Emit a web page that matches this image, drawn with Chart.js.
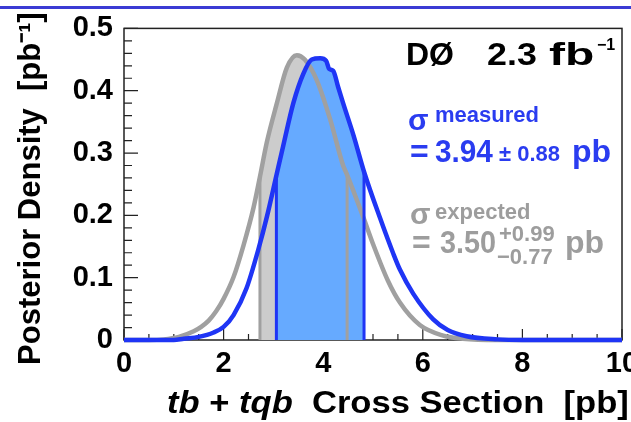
<!DOCTYPE html>
<html>
<head>
<meta charset="utf-8">
<script src="https://cdn.jsdelivr.net/npm/chart.js@4.4.1/dist/chart.umd.min.js"></script>
<style>
html, body { margin: 0; padding: 0; background: #fff; overflow: hidden; }
#wrap { position: relative; width: 631px; height: 422px; overflow: hidden; }
#chart { position: absolute; left: 0; top: 0; }
#topRule { position: absolute; left: 0; top: 6px; width: 631px; height: 3px; background: #3b3bd4; }
.t { position: absolute; font-family: "Liberation Sans", Arial, sans-serif; font-weight: bold; line-height: 1; white-space: pre; transform-origin: 0 0; }
.blue { color: #2a3cf0; }
.grey { color: #9d9d9d; }
</style>
</head>
<body>
<div id="wrap">
  <canvas id="chart" width="680" height="422"></canvas>
  <div id="topRule"></div>

  <div class="t" style="left:406px; top:38px; font-size:32px;">DØ</div>
  <div class="t" style="left:487px; top:38px; font-size:32px; transform:scaleX(1.12);">2.3</div>
  <div class="t" style="left:549px; top:38px; font-size:32px; transform:scaleX(1.5);">fb</div>
  <div class="t" style="left:597px; top:37px; font-size:16px;">−1</div>

  <div class="t blue" style="left:408px; top:105px; font-size:30px;">σ</div>
  <div class="t blue" style="left:435px; top:104px; font-size:22px;">measured</div>
  <div class="t blue" style="left:410px; top:135px; font-size:32px;">=</div>
  <div class="t blue" style="left:435px; top:135px; font-size:32px; transform:scaleX(0.93);">3.94</div>
  <div class="t blue" style="left:499px; top:143px; font-size:22px;">± 0.88</div>
  <div class="t blue" style="left:572px; top:135px; font-size:32px;">pb</div>

  <div class="t grey" style="left:410px; top:199px; font-size:30px;">σ</div>
  <div class="t grey" style="left:435px; top:201px; font-size:22px;">expected</div>
  <div class="t grey" style="left:412px; top:226px; font-size:32px;">=</div>
  <div class="t grey" style="left:440px; top:226px; font-size:32px; transform:scaleX(0.9);">3.50</div>
  <div class="t grey" style="left:499px; top:223px; font-size:22px;">+0.99</div>
  <div class="t grey" style="left:497px; top:246px; font-size:22px;">−0.77</div>
  <div class="t grey" style="left:565px; top:226px; font-size:32px;">pb</div>

  <div class="t" style="left:167px; top:386px; font-size:32px; transform:scaleX(1.08);"><i>tb</i> + <i>tqb</i>  Cross Section  [pb]</div>
</div>

<script>
// posterior densities
const expectedX = [0, 0.5, 0.8, 1.1, 1.4, 1.55, 1.7, 1.85, 2.0, 2.2, 2.4, 2.6, 2.73, 2.87, 3.07, 3.27, 3.47, 3.63, 3.87, 4.14, 4.40, 4.48, 4.81, 5.01, 5.3, 5.54, 5.94, 6.41, 6.8, 7.5, 10];
const expectedY = [0, 0, 0.001, 0.005, 0.014, 0.021, 0.031, 0.046, 0.066, 0.101, 0.152, 0.212, 0.262, 0.318, 0.380, 0.437, 0.457, 0.450, 0.417, 0.354, 0.280, 0.265, 0.196, 0.152, 0.095, 0.060, 0.024, 0.007, 0.002, 0, 0];
const expectedBand = [2.73, 4.48];

const measuredX = [0, 1.0, 1.2, 1.5, 1.8, 2.0, 2.2, 2.46, 2.70, 2.87, 3.06, 3.2, 3.40, 3.60, 3.77, 3.94, 4.06, 4.12, 4.20, 4.30, 4.40, 4.61, 4.82, 5.14, 5.41, 5.54, 5.81, 6.21, 6.5, 6.88, 7.5, 8, 10];
const measuredY = [0, 0, 0.002, 0.005, 0.012, 0.021, 0.040, 0.083, 0.146, 0.198, 0.264, 0.3125, 0.380, 0.427, 0.450, 0.452, 0.448, 0.435, 0.432, 0.406, 0.380, 0.328, 0.270, 0.196, 0.138, 0.113, 0.074, 0.033, 0.016, 0.006, 0.001, 0, 0];
const measuredBand = [3.06, 4.82];

const xTicks = [0, 2, 4, 6, 8, 10];
const yTicks = ['0', '0.1', '0.2', '0.3', '0.4', '0.5'];

const greyLine = '#a0a0a0';
const greyFill = '#cccccc';
const blueLine = '#1f35f5';
const blueFill = '#66aaff';
const fontFam = '"Liberation Sans", Arial, sans-serif';

const pts = (xs, ys) => xs.map((x, i) => ({ x: x, y: ys[i] }));
const band = (xs, ys, b) => pts(xs, ys).filter(p => p.x >= b[0] && p.x <= b[1]);
const edge = (xs, ys, x) => [{ x: x, y: 0 }, { x: x, y: ys[xs.indexOf(x)] }];

// ROOT style frame with ticks on the inside
const rootFrame = {
    id: 'rootFrame',
    beforeDatasetsDraw(chart) {
        const { ctx, chartArea: a, scales: { x, y } } = chart;
        ctx.save();
        ctx.strokeStyle = '#222';
        ctx.lineWidth = 1.5;
        ctx.strokeRect(a.left, a.top, a.right - a.left, a.bottom - a.top);
        ctx.lineWidth = 1.2;
        ctx.beginPath();
        for (let i = 0; i <= 20; i++) {
            const px = x.getPixelForValue(i * 0.5);
            const len = i % 4 === 0 ? 11 : 6;
            ctx.moveTo(px, a.bottom);
            ctx.lineTo(px, a.bottom - len);
        }
        for (let i = 0; i <= 25; i++) {
            const py = y.getPixelForValue(i * 0.02);
            const len = i % 5 === 0 ? 14 : 8;
            ctx.moveTo(a.left, py);
            ctx.lineTo(a.left + len, py);
        }
        ctx.stroke();
        ctx.restore();
    }
};

const ctx = document.getElementById('chart').getContext('2d');
new Chart(ctx, {
    type: 'line',
    data: {
        datasets: [
            { data: band(expectedX, expectedY, expectedBand), fill: 'origin', backgroundColor: greyFill, borderWidth: 0, cubicInterpolationMode: 'monotone', order: 6 },
            { data: band(measuredX, measuredY, measuredBand), fill: 'origin', backgroundColor: blueFill, borderWidth: 0, cubicInterpolationMode: 'monotone', order: 5 },
            { data: edge(expectedX, expectedY, expectedBand[0]), borderColor: greyLine, borderWidth: 3, order: 4 },
            { data: edge(expectedX, expectedY, expectedBand[1]), borderColor: greyLine, borderWidth: 3, order: 4 },
            { data: pts(expectedX, expectedY), borderColor: greyLine, borderWidth: 4.5, cubicInterpolationMode: 'monotone', clip: 5, order: 3 },
            { data: edge(measuredX, measuredY, measuredBand[0]), borderColor: blueLine, borderWidth: 3, order: 2 },
            { data: edge(measuredX, measuredY, measuredBand[1]), borderColor: blueLine, borderWidth: 3, order: 2 },
            { data: pts(measuredX, measuredY), borderColor: blueLine, borderWidth: 4.5, cubicInterpolationMode: 'monotone', clip: 5, order: 1 }
        ]
    },
    options: {
        responsive: false,
        animation: false,
        events: [],
        layout: { padding: { left: 0, top: 20, right: 58, bottom: 0 } },
        elements: { point: { radius: 0 }, line: { fill: false } },
        plugins: { legend: { display: false }, tooltip: { enabled: false } },
        scales: {
            x: {
                type: 'linear', min: 0, max: 10,
                grid: { display: false, drawTicks: false },
                border: { display: false },
                afterBuildTicks: s => { s.ticks = xTicks.map(v => ({ value: v })); },
                ticks: { color: '#000', padding: 7, maxRotation: 0, autoSkip: false,
                         font: { family: fontFam, weight: 'bold', size: 29 } },
                afterFit: s => { s.height = 82; }
            },
            y: {
                type: 'linear', min: 0, max: 0.5,
                grid: { display: false, drawTicks: false },
                border: { display: false },
                afterBuildTicks: s => { s.ticks = yTicks.map(v => ({ value: parseFloat(v) })); },
                ticks: { color: '#000', padding: 11, autoSkip: false,
                         font: { family: fontFam, weight: 'bold', size: 29 },
                         callback: (v, i) => yTicks[i] },
                title: { display: true, text: 'Posterior Density  [pb⁻¹] ', color: '#000',
                         font: { family: fontFam, weight: 'bold', size: 31 },
                         padding: { top: 13, bottom: 0 } },
                afterFit: s => { s.width = 124; }
            }
        }
    },
    plugins: [rootFrame]
});
</script>
</body>
</html>
